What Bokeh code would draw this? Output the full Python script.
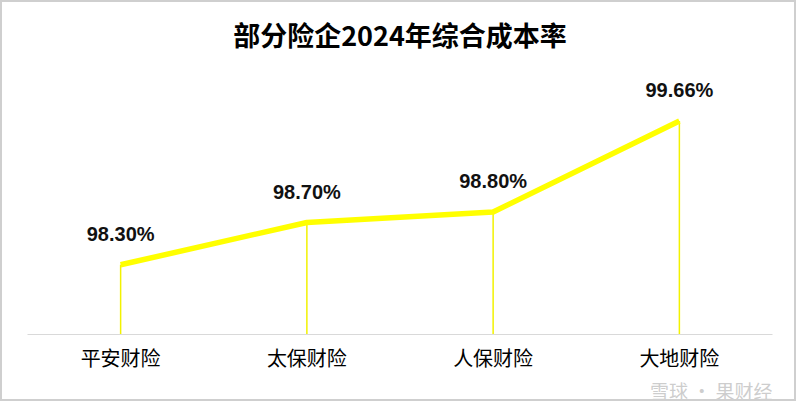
from bokeh.plotting import figure
from bokeh.models import Range1d, Title
from bokeh.core.properties import value
from bokeh.embed import file_html
from bokeh.resources import INLINE

title_text = "部分险企2024年综合成本率"
categories = ["平安财险", "太保财险", "人保财险", "大地财险"]
values = [98.30, 98.70, 98.80, 99.66]
value_labels = ["98.30%", "98.70%", "98.80%", "99.66%"]
y_start = 97.64
y_end = 100.205
watermark = "雪球 · 果财经"

p = figure(
    x_range=categories,
    y_range=Range1d(y_start, y_end),
    width=796,
    height=401,
    output_backend="svg",
    toolbar_location=None,
    min_border_left=25,
    min_border_right=26,
    min_border_top=61,
    min_border_bottom=56,
    title=title_text,
)
p.stylesheets = [":host { border: 2px solid #cfcfcf; }"]

p.title.align = "center"
p.title.text_font = "Noto Sans CJK SC"
p.title.text_font_size = "27px"
p.title.text_font_style = "bold"
p.title.text_color = "#000000"
p.title.standoff = 19

p.outline_line_color = None
p.xgrid.visible = False
p.ygrid.visible = False
p.yaxis.visible = False
p.background_fill_color = "white"
p.border_fill_color = "white"

ax = p.xaxis[0]
ax.axis_line_color = "#d9d9d9"
ax.axis_line_width = 1
ax.major_tick_line_color = None
ax.minor_tick_line_color = None
ax.major_label_text_font = "Noto Sans CJK SC"
ax.major_label_text_font_size = "20px"
ax.major_label_text_color = "#000000"
ax.major_label_standoff = 2

# drop lines
p.segment(x0=categories, y0=values, x1=categories, y1=[y_start] * len(values),
          line_color="#F2F200", line_width=1.5)

# main line
p.line(categories, values, line_color="#FFFF00", line_width=5.5, line_join="round")

# value labels
p.text(x=categories, y=values, text=value_labels, y_offset=-31,
       text_align="center", text_baseline="middle",
       text_font=value("Liberation Sans"), text_font_style="bold",
       text_font_size="20px", text_color="#111111")

# watermark as a right-aligned title in the panel below the axis
wm = Title(text=watermark, align="right", text_font="Noto Sans CJK SC",
           text_font_size="19px", text_font_style="normal",
           text_color="#c4c4c4", text_alpha=0.85, standoff=0)
p.add_layout(wm, "below")

open("out.html", "w").write(file_html(p, INLINE))
